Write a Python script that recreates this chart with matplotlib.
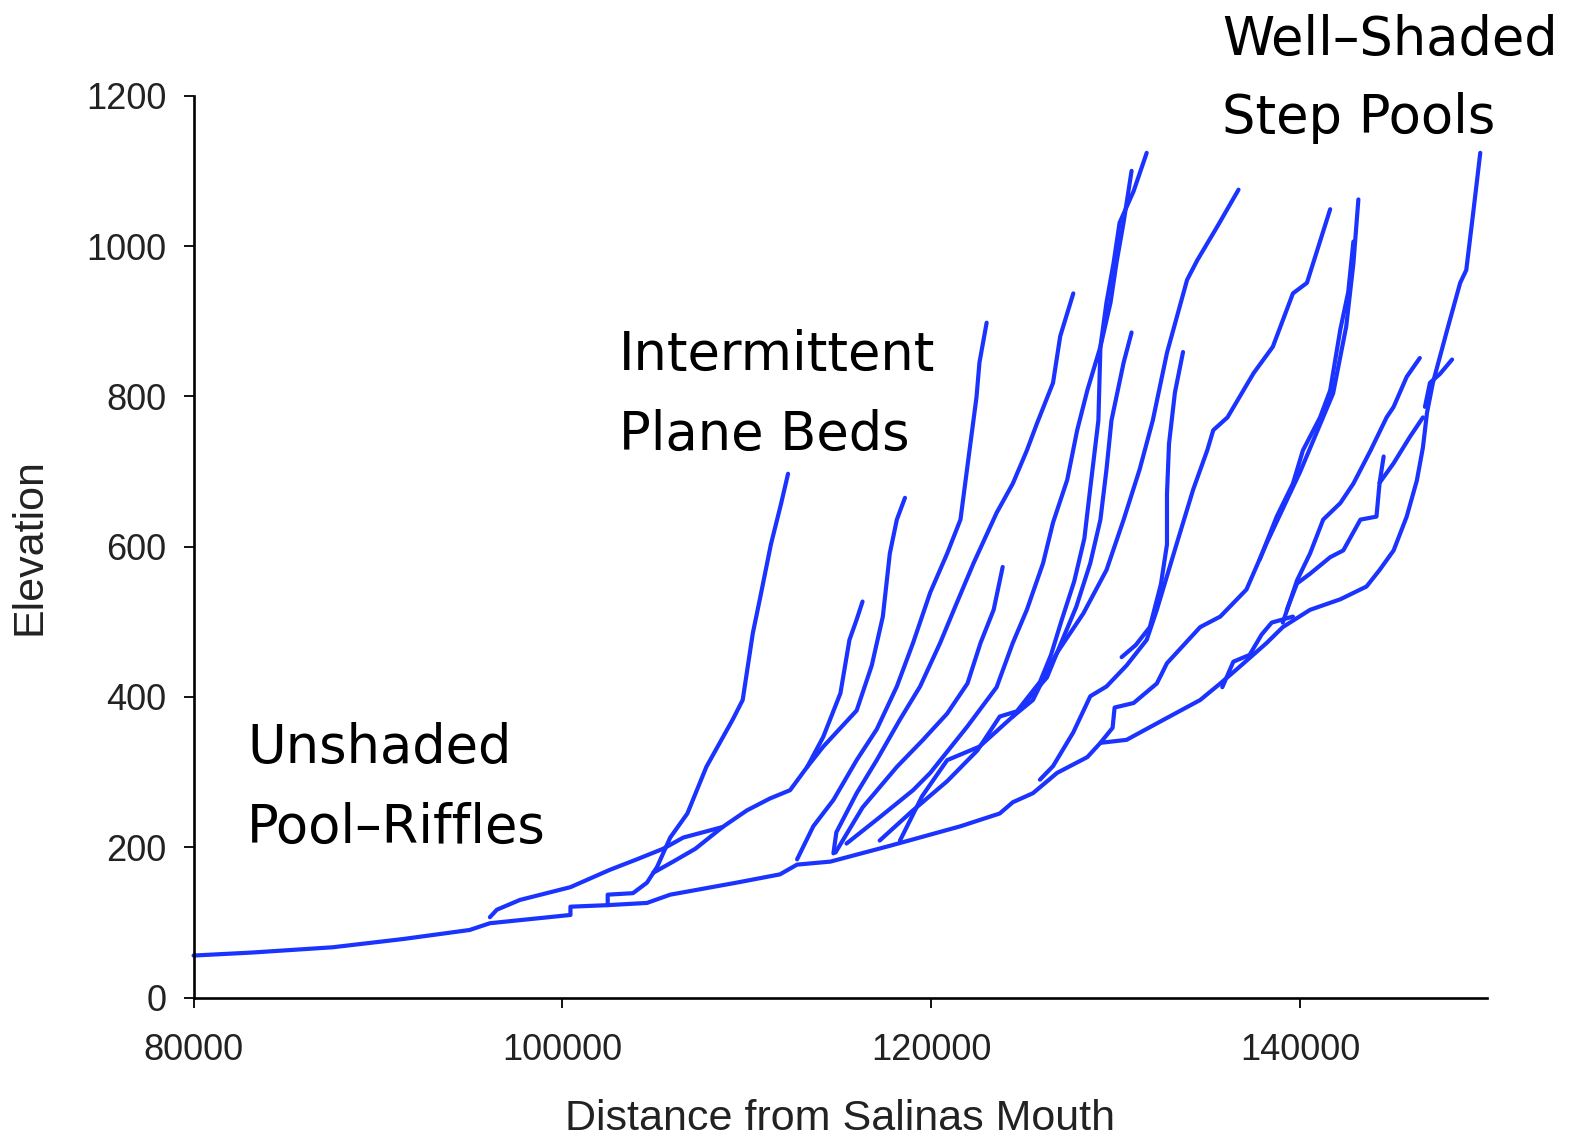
import matplotlib
matplotlib.use("Agg")
import matplotlib.pyplot as plt
from matplotlib.ticker import FixedLocator

# ---------------- data (distance from mouth, elevation) ----------------
main_x = [80000, 83170, 87540, 91370, 94970, 96070, 100440, 100440, 102400, 104590, 105850,
          109450, 111800, 112730, 114540, 117760, 121590, 123720, 124430, 125520, 126830,
          128470, 129180, 130600, 132400, 134590, 135680, 136720, 138200, 139070, 140550,
          142190, 143610, 144320, 145080, 145790, 146340, 146670, 146890, 147210, 147980,
          148690, 149020, 149400, 149780]
main_y = [56, 60, 67, 78, 90, 99, 110, 121, 123, 126, 137,
          153, 164, 177, 181, 202, 228, 245, 260, 272, 299,
          320, 339, 343, 367, 396, 418, 440, 472, 493, 516,
          530, 547, 569, 595, 640, 688, 732, 778, 818, 888,
          951, 968, 1045, 1124]

b1_x = [96070, 96450, 97700, 100440, 102570, 104040, 105460, 106560, 108690, 110000, 111260,
        112350, 113280, 114150, 115960, 116780, 117380, 117760, 118140, 118580]
b1_y = [107, 117, 130, 147, 170, 184, 198, 213, 227, 249, 265,
        276, 307, 334, 382, 442, 507, 591, 636, 665]

b1b_x = [113280, 114150, 115080, 115570, 115960, 116280]
b1b_y = [307, 347, 405, 476, 503, 527]

b2_x = [102460, 102460, 103830, 104590, 105140, 105850, 106780, 107810, 109240, 109780,
        110330, 110710, 111310, 111860, 112240]
b2_y = [123, 137, 139, 153, 174, 213, 245, 307, 370, 396,
        485, 530, 603, 657, 697]

b3_x = [104920, 106010, 107210, 108690]
b3_y = [166, 181, 198, 227]

ba_x = [112730, 113610, 114700, 115960, 117050, 118140, 119020, 119950, 120870, 121590,
        122080, 122460, 122620, 123010]
ba_y = [184, 228, 263, 316, 357, 414, 472, 539, 591, 636,
        728, 799, 845, 898]

bb_x = [114810, 116280, 118140, 119560, 120870, 121970, 122680, 123390, 123880]
bb_y = [193, 253, 307, 343, 378, 418, 472, 516, 573]

bc_x = [114700, 114860, 115960, 117050, 118310, 119400, 120490, 121370, 122300, 123550,
        124430, 125190, 125740, 126610, 127000, 127710]
bc_y = [192, 220, 272, 316, 370, 414, 472, 524, 578, 645,
        684, 728, 764, 818, 880, 937]

bd_x = [115410, 117210, 119020, 119950, 121970, 123550, 124430, 125190, 126070, 126610,
        127380, 127920, 128470, 129180, 129510, 129890, 130220, 130980, 131690]
bd_y = [205, 240, 276, 299, 361, 413, 472, 516, 578, 632,
        689, 755, 808, 866, 925, 977, 1031, 1073, 1124]

bd2_x = [117210, 118960, 120870, 122510, 123720, 124650, 125900, 126500, 127050, 127760,
         128310, 128630, 129070, 129180, 129730, 130060, 130440, 130870]
bd2_y = [209, 248, 288, 329, 374, 381, 420, 456, 500, 554,
         611, 678, 768, 866, 925, 979, 1032, 1100]

be_x = [118310, 119510, 120870, 122620, 124430, 126280, 127000, 127870, 128630, 129180,
        129510, 129780, 130440, 130870]
be_y = [209, 268, 316, 334, 374, 426, 469, 520, 578, 636,
        703, 768, 845, 885]

b9_x = [130330, 131090, 131860, 132460, 132790, 132790, 132900, 133220, 133660]
b9_y = [453, 469, 493, 550, 603, 670, 737, 805, 859]

b10_x = [124430, 125520, 126450, 126830, 128250, 129510, 130440, 131310, 132020, 132790,
         133880, 134430, 135520, 136670]
b10_y = [374, 396, 442, 459, 511, 569, 636, 703, 768, 858,
         955, 981, 1026, 1075]

b11_x = [125900, 126610, 127710, 128630, 129510, 130600, 131690, 132240, 133330, 134210,
         134970, 135300, 136070, 137490, 138530, 139620, 140380, 141640]
b11_y = [290, 308, 353, 401, 414, 442, 476, 516, 605, 676,
         728, 755, 772, 831, 866, 937, 951, 1049]

b12_x = [129180, 129840, 129950, 130980, 132240, 132790, 134590, 135680, 137100, 137650,
         138200, 139290, 140000, 141800, 142510, 142900, 143170]
b12_y = [339, 359, 386, 392, 418, 445, 493, 507, 543, 574,
         605, 662, 699, 804, 893, 977, 1062]

b12b_x = [137820, 138740, 139620, 140160, 141090, 141640, 142190, 142620, 142900]
b12b_y = [583, 640, 684, 728, 772, 808, 889, 939, 1006]

b13_x = [139070, 139840, 140550, 141260, 142190, 142900, 143830, 144700, 145080, 145790, 146500]
b13_y = [499, 555, 591, 636, 658, 684, 728, 772, 786, 826, 851]

bh_x = [139290, 139840, 140550, 141640, 142350, 143280, 144150, 144320, 144540]
bh_y = [516, 551, 564, 586, 595, 636, 640, 685, 720]

bh2_x = [144320, 145080, 145960, 146670]
bh2_y = [685, 711, 746, 772]

b14_x = [146780, 147050, 147600, 148250]
b14_y = [786, 818, 830, 849]

bg_x = [135790, 136390, 137270, 137920, 138470, 139620]
bg_y = [413, 447, 456, 483, 499, 507]

series = [(main_x, main_y), (b1_x, b1_y), (b1b_x, b1b_y), (b2_x, b2_y), (b3_x, b3_y),
          (ba_x, ba_y), (bb_x, bb_y), (bc_x, bc_y), (bd_x, bd_y), (bd2_x, bd2_y),
          (be_x, be_y), (b9_x, b9_y), (b10_x, b10_y), (b11_x, b11_y), (b12_x, b12_y),
          (b12b_x, b12b_y), (b13_x, b13_y), (bh_x, bh_y), (bh2_x, bh2_y), (b14_x, b14_y),
          (bg_x, bg_y)]

x_ticks = [80000, 100000, 120000, 140000]
x_tick_labels = ["80000", "100000", "120000", "140000"]
y_ticks = [0, 200, 400, 600, 800, 1000, 1200]
y_tick_labels = ["0", "200", "400", "600", "800", "1000", "1200"]

annotations = [("Unshaded", 0.1563, 0.3336), ("Pool\u2013Riffles", 0.1563, 0.2637),
               ("Intermittent", 0.3917, 0.6769), ("Plane Beds", 0.3917, 0.6070),
               ("Well\u2013Shaded", 0.7736, 0.9516), ("Step Pools", 0.7736, 0.8838)]

# ---------------- figure ----------------
BLUE = "#1a33ff"
fig = plt.figure(figsize=(15.8, 11.45), dpi=100)
ax = fig.add_axes([0.1225, 0.1287, 0.8187, 0.7877])

for xs, ys in series:
    ax.plot(xs, ys, color=BLUE, lw=3.0, solid_joinstyle="round", solid_capstyle="round",
            clip_on=False)

ax.set_xlim(80000, 150150)
ax.set_ylim(0, 1200)
for s in ("top", "right"):
    ax.spines[s].set_visible(False)
for s in ("left", "bottom"):
    ax.spines[s].set_linewidth(1.9)
    ax.spines[s].set_color("black")

tick_font = {"family": "Liberation Sans", "size": 26, "color": "#222222"}
ax.xaxis.set_major_locator(FixedLocator(x_ticks))
ax.yaxis.set_major_locator(FixedLocator(y_ticks))
ax.set_xticklabels(x_tick_labels, fontdict=tick_font)
ax.set_yticklabels(y_tick_labels, fontdict=tick_font)
ax.tick_params(axis="both", direction="out", length=7.5, width=1.3, color="black")
ax.tick_params(axis="x", pad=18)
ax.tick_params(axis="y", pad=12)

label_font = {"family": "Liberation Sans", "size": 31, "color": "#222222"}
ax.set_xlabel("Distance from Salinas Mouth", fontdict=label_font, labelpad=22)
ax.set_ylabel("Elevation", fontdict=label_font, labelpad=26)

for txt, fx, fy in annotations:
    fig.text(fx, fy, txt, fontsize=38, family="DejaVu Sans", color="black",
             ha="left", va="baseline")

fig.savefig("out.png", dpi=100, facecolor="white")
